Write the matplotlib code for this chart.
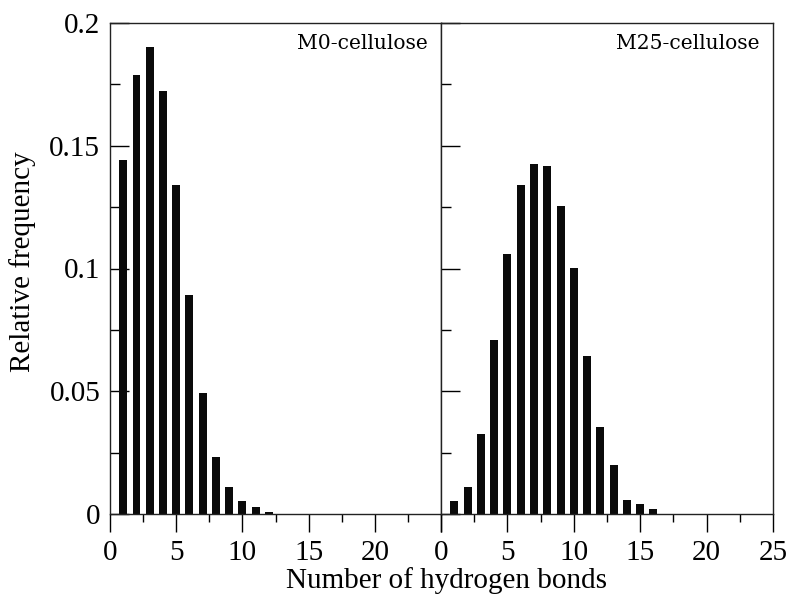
import numpy as np
import matplotlib
matplotlib.use("Agg")
import matplotlib.pyplot as plt
from matplotlib.ticker import MultipleLocator, FixedLocator, FuncFormatter

# Number of hydrogen bonds per molecule and their relative frequencies
bonds_m0 = [1, 2, 3, 4, 5, 6, 7, 8, 9, 10, 11, 12]
freq_m0 = [0.1442, 0.1788, 0.1902, 0.1723, 0.1339, 0.0892,
           0.0492, 0.0231, 0.0111, 0.0054, 0.0027, 0.0008]

bonds_m25 = [1, 2, 3, 4, 5, 6, 7, 8, 9, 10, 11, 12, 13, 14, 15, 16]
freq_m25 = [0.0054, 0.0111, 0.0327, 0.0707, 0.1060, 0.1341, 0.1426, 0.1418,
            0.1253, 0.1002, 0.0645, 0.0356, 0.0200, 0.0056, 0.0041, 0.0022]

panel_names = ["M0-cellulose", "M25-cellulose"]
x_labels_left = ["0", "5", "10", "15", "20"]
x_labels_right = ["0", "5", "10", "15", "20", "25"]
y_ticks = [0, 0.05, 0.1, 0.15, 0.2]
y_labels = ["0", "0.05", "0.1", "0.15", "0.2"]

W, H = 790, 594
fig = plt.figure(figsize=(W / 100, H / 100), dpi=100)

serif = "Liberation Serif"
tick_fs = 21

ax_left = fig.add_axes([110 / W, 1 - 514 / H, 331 / W, 491 / H])
ax_right = fig.add_axes([441 / W, 1 - 514 / H, 332 / W, 491 / H])

bar_color = "#0a0a0a"
for ax, xs, ys, name in [(ax_left, bonds_m0, freq_m0, panel_names[0]),
                         (ax_right, bonds_m25, freq_m25, panel_names[1])]:
    ax.bar(xs, ys, width=0.6, color=bar_color, edgecolor="none", zorder=2)
    ax.set_xlim(0, 25)
    ax.set_ylim(0, 0.2)
    for sp in ax.spines.values():
        sp.set_linewidth(1.0)
        sp.set_color("#222222")
    ax.xaxis.set_major_locator(MultipleLocator(5))
    ax.xaxis.set_minor_locator(MultipleLocator(2.5))
    ax.yaxis.set_major_locator(FixedLocator(y_ticks))
    ax.yaxis.set_minor_locator(MultipleLocator(0.025))
    ax.tick_params(axis="x", which="major", direction="out", length=13,
                   width=1.0, pad=6, labelsize=tick_fs, top=False)
    ax.tick_params(axis="x", which="minor", direction="out", length=6,
                   width=1.0, top=False)
    ax.tick_params(axis="y", which="major", direction="in", length=14,
                   width=1.0, pad=7, labelsize=tick_fs, right=False)
    ax.tick_params(axis="y", which="minor", direction="in", length=7,
                   width=1.0, right=False)
    ax.text(1 - 13 / 331, 1 - 11 / 491, name, transform=ax.transAxes,
            ha="right", va="top", fontsize=14.6, family="DejaVu Serif")

ax_left.xaxis.set_major_formatter(
    FuncFormatter(lambda v, p: x_labels_left[int(round(v / 5))]
                  if int(round(v / 5)) < len(x_labels_left) else ""))
ax_right.xaxis.set_major_formatter(
    FuncFormatter(lambda v, p: x_labels_right[int(round(v / 5))]
                  if 0 <= int(round(v / 5)) < len(x_labels_right) else ""))
ax_left.yaxis.set_major_formatter(
    FuncFormatter(lambda v, p: y_labels[p] if p is not None and p < len(y_labels) else ""))
ax_right.yaxis.set_major_formatter(FuncFormatter(lambda v, p: ""))

for ax in (ax_left, ax_right):
    for lab in ax.get_xticklabels() + ax.get_yticklabels():
        lab.set_fontfamily(serif)

fig.text(447 / W, 6 / H, "Number of hydrogen bonds", ha="center",
         va="baseline", fontsize=21, family=serif)
fig.text(23 / W, 1 - 262 / H, "Relative frequency", ha="center",
         va="center", rotation=90, fontsize=21, family=serif)

fig.savefig("out.png", dpi=100)
